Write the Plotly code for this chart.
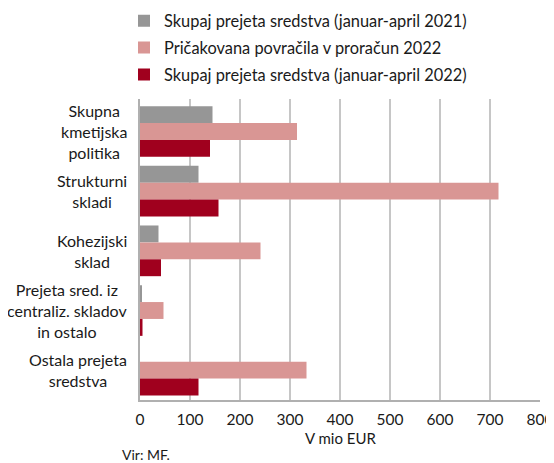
import plotly.graph_objects as go

categories = [
    "Skupna<br>kmetijska<br>politika",
    "Strukturni<br>skladi",
    "Kohezijski<br>sklad",
    "Prejeta sred. iz<br>centraliz. skladov<br>in ostalo",
    "Ostala prejeta<br>sredstva",
]
series_names = [
    "Skupaj prejeta sredstva (januar-april 2021)",
    "Pričakovana povračila v proračun 2022",
    "Skupaj prejeta sredstva (januar-april 2022)",
]
values_2021 = [145, 117, 37, 3, 0]
values_plan_2022 = [314, 717, 241, 47, 333]
values_2022 = [140, 157, 42, 5, 117]
colors = ["#969696", "#d99694", "#a0001e"]
x_ticks = [0, 100, 200, 300, 400, 500, 600, 700, 800]
x_title = "V mio EUR"
source = "Vir: MF."

FONT = "Lato"

fig = go.Figure()
for name, vals, col in zip(series_names, [values_2021, values_plan_2022, values_2022], colors):
    fig.add_trace(go.Bar(
        y=categories, x=vals, name=name, orientation="h",
        marker=dict(color=col, line=dict(width=0)),
        legendgroup=name,
    ))

for c in categories:
    fig.add_annotation(
        x=-0.0275, xref="paper", y=c, yref="y", text=c, showarrow=False,
        xanchor="right", yanchor="middle", align="center",
        font=dict(family=FONT, size=16, color="#1a1a1a"),
    )

fig.add_annotation(
    x=0.5, xref="paper", y=-0.126, yref="paper", text=x_title,
    showarrow=False, xanchor="center", yanchor="middle",
    font=dict(family=FONT, size=15, color="#1a1a1a"),
)
fig.add_annotation(
    x=-0.05, xref="paper", y=-0.181, yref="paper", text=source,
    showarrow=False, xanchor="left", yanchor="middle",
    font=dict(family=FONT, size=14, color="#1a1a1a"),
)

fig.update_layout(
    width=546, height=455,
    margin=dict(l=132, r=14, t=91, b=63, autoexpand=False),
    paper_bgcolor="white", plot_bgcolor="white",
    barmode="group", bargap=0.15, bargroupgap=0,
    font=dict(family=FONT, size=15, color="#1a1a1a"),
    showlegend=True,
    legend=dict(
        x=-0.04, y=1.317, xanchor="left", yanchor="top",
        orientation="v", traceorder="grouped", tracegroupgap=2.5,
        font=dict(family=FONT, size=16.4, color="#1a1a1a"),
        itemwidth=30, bgcolor="rgba(0,0,0,0)",
    ),
    xaxis=dict(
        range=[0, 800], tickvals=x_ticks, ticktext=[str(t) for t in x_ticks],
        showgrid=True, gridcolor="#c6c6c6", gridwidth=1.5,
        showline=True, linecolor="#b0b0b0", linewidth=1.5,
        zeroline=False, ticks="", ticklen=0, automargin=False,
        ticklabeloverflow="allow", ticklabelstandoff=5,
        tickfont=dict(family=FONT, size=15.5, color="#1a1a1a"),
        fixedrange=True,
    ),
    yaxis=dict(
        autorange="reversed", showticklabels=False, showgrid=False,
        showline=True, linecolor="#b0b0b0", linewidth=1.5, ticks="",
        zeroline=False, fixedrange=True, automargin=False,
    ),
)

fig.write_html("out.html")
